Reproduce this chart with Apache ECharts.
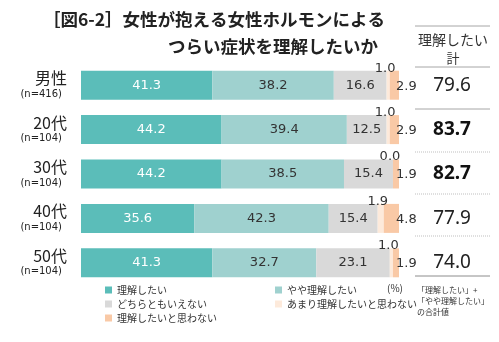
<!DOCTYPE html>
<html><head><meta charset="utf-8">
<script src="https://cdn.jsdelivr.net/npm/echarts@6/dist/echarts.min.js"></script>
<style>html,body{margin:0;padding:0;background:#fff}#c{width:499px;height:342px}</style>
</head><body><div id="c"></div>
<script>
var categories = ['男性', '20代', '30代', '40代', '50代'];
var sampleSizes = ['(n=416)', '(n=104)', '(n=104)', '(n=104)', '(n=104)'];
var seriesNames = ['理解したい', 'やや理解したい', 'どちらともいえない', 'あまり理解したいと思わない', '理解したいと思わない'];
var rikai = [41.3, 44.2, 44.2, 35.6, 41.3];
var yaya = [38.2, 39.4, 38.5, 42.3, 32.7];
var dochira = [16.6, 12.5, 15.4, 15.4, 23.1];
var amari = [1.0, 1.0, 0.0, 1.9, 1.0];
var omowanai = [2.9, 2.9, 1.9, 4.8, 1.9];
var totals = ['79.6', '83.7', '82.7', '77.9', '74.0'];
var totalBold = [false, true, true, false, false];

var colors = ['#5bbdb9', '#9fd1cf', '#d9d9d9', '#fdeadb', '#f9c9a6'];
var font = '"Noto Sans CJK JP", "Noto Sans", sans-serif';
var numFont = '"DejaVu Sans", sans-serif';

var chart = echarts.init(document.getElementById('c'), null, {renderer: 'canvas'});
function fmt(p) { return p.value.toFixed(1); }
var values = [rikai, yaya, dochira, amari, omowanai];
var labelCfg = [
  {show: true, position: 'inside', color: '#fff', fontSize: 13, fontFamily: numFont, formatter: fmt},
  {show: true, position: 'inside', color: '#333', fontSize: 13, fontFamily: numFont, formatter: fmt},
  {show: true, position: 'inside', color: '#333', fontSize: 13, fontFamily: numFont, formatter: fmt},
  {show: true, position: 'top', distance: -4, offset: [-3, 0], color: '#333', fontSize: 13, fontFamily: numFont, formatter: fmt},
  {show: true, position: 'right', distance: -3, offset: [0, 1], color: '#333', fontSize: 13, fontFamily: numFont, formatter: fmt}
];
var series = values.map(function (v, i) {
  return {
    name: seriesNames[i], type: 'bar', stack: 'all', data: v, barWidth: 29,
    itemStyle: {color: colors[i]}, label: labelCfg[i], silent: true, animation: false
  };
});

var lineStyleSolid = {stroke: '#a6a6a6', lineWidth: 1};
var lineStyleDot = {stroke: '#bfbfbf', lineWidth: 1, lineDash: [1, 1]};
function hline(y, style) {
  return {type: 'line', shape: {x1: 415, y1: y, x2: 490, y2: y}, style: style, silent: true};
}

chart.setOption({
  animation: false,
  backgroundColor: '#fff',
  title: [
    {text: '［図6-2］女性が抱える女性ホルモンによる', left: 38, top: 6,
     textStyle: {fontSize: 17.5, fontWeight: 'bold', color: '#222', fontFamily: font}},
    {text: 'つらい症状を理解したいか', right: 116, top: 33,
     textStyle: {fontSize: 17.5, fontWeight: 'bold', color: '#222', fontFamily: font}}
  ],
  grid: {left: 81, right: 100, top: 63, bottom: 57},
  xAxis: {type: 'value', min: 0, max: 100, show: false},
  yAxis: [
    {type: 'category', inverse: true, data: categories,
     axisLine: {show: false}, axisTick: {show: false},
     axisLabel: {margin: 14, align: 'right',
       formatter: function (v, i) { return '{a|' + v + '}\n{b|' + sampleSizes[i] + '}'; },
       rich: {a: {fontSize: 16, color: '#222', fontFamily: font, lineHeight: 18, align: 'right'},
              b: {fontSize: 10, color: '#222', fontFamily: numFont, lineHeight: 14, align: 'right', padding: [0, 5, 0, 0]}}}},
    {type: 'category', inverse: true, data: totals, position: 'right',
     axisLine: {show: false}, axisTick: {show: false},
     axisLabel: {margin: 53, align: 'center',
       formatter: function (v, i) { return totalBold[i] ? '{b|' + v + '}' : '{n|' + v + '}'; },
       rich: {n: {fontSize: 19, color: '#222', fontFamily: '"Noto Sans", sans-serif'},
              b: {fontSize: 19, fontWeight: 'bold', color: '#111', fontFamily: '"Noto Sans", sans-serif'}}}}
  ],
  legend: [
    {data: [seriesNames[0], seriesNames[2], seriesNames[4]], orient: 'vertical', left: 100, top: 280,
     icon: 'rect', itemWidth: 7, itemHeight: 7, itemGap: 4,
     textStyle: {fontSize: 10, color: '#333', fontFamily: font}},
    {data: [seriesNames[1], seriesNames[3]], orient: 'vertical', left: 270, top: 280,
     icon: 'rect', itemWidth: 7, itemHeight: 7, itemGap: 4,
     textStyle: {fontSize: 10, color: '#333', fontFamily: font}}
  ],
  graphic: [
    hline(26, lineStyleSolid),
    {type: 'text', silent: true, style: {x: 453, y: 40, text: '理解したい', textAlign: 'center', textVerticalAlign: 'middle', fontSize: 14, fill: '#333', fontFamily: font}},
    {type: 'text', silent: true, style: {x: 453, y: 58, text: '計', textAlign: 'center', textVerticalAlign: 'middle', fontSize: 13, fill: '#333', fontFamily: font}},
    hline(67, lineStyleSolid),
    hline(109, lineStyleSolid),
    hline(152, lineStyleDot),
    hline(194, lineStyleDot),
    hline(236, lineStyleDot),
    hline(276, {stroke: '#8c8c8c', lineWidth: 1}),
    {type: 'text', silent: true, style: {x: 395, y: 288, text: '(%)', textAlign: 'center', textVerticalAlign: 'middle', fontSize: 10, fill: '#333', fontFamily: font}},
    {type: 'text', silent: true, style: {x: 417, y: 284, text: '「理解したい」+\n「やや理解したい」\nの合計値', textAlign: 'left', textVerticalAlign: 'top', fontSize: 8, lineHeight: 11, fill: '#333', fontFamily: font}}
  ],
  series: series
});
</script>
</body></html>
